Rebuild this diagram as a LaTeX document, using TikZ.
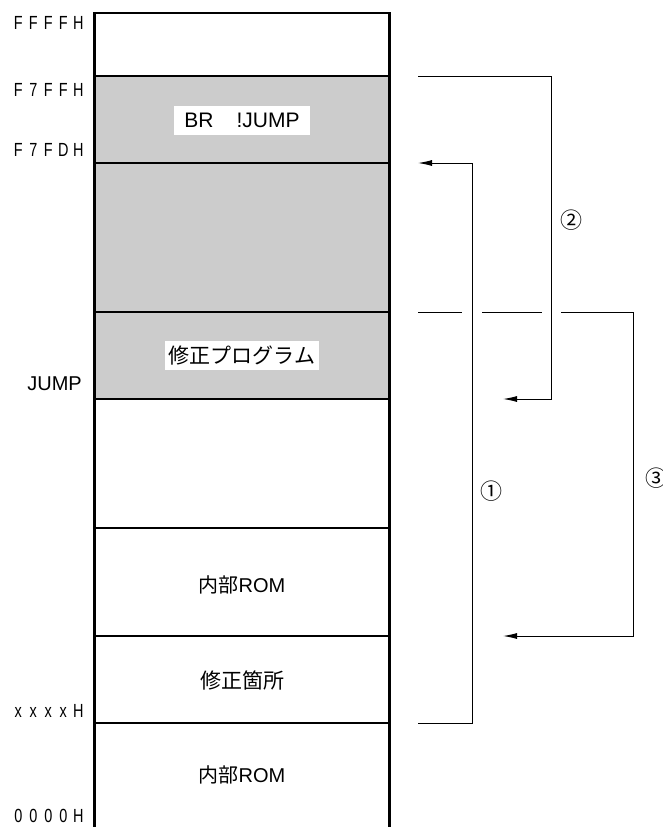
\documentclass[tikz,border=0pt]{standalone}
\usepackage{fontspec}
\setmainfont{Liberation Sans}
\newfontfamily\jp{Noto Sans CJK JP}
\newfontfamily\addrfont[FakeStretch=0.76]{Liberation Sans}
\usetikzlibrary{arrows.meta}
\newcommand{\ac}[1]{\makebox[15pt][c]{#1}}
\definecolor{memgray}{HTML}{CCCCCC}
\tikzset{
  boxline/.style={line width=1.3pt},
  sideline/.style={line width=3pt},
  conn/.style={line width=1pt},
  arr/.style={conn,-{Latex[length=14pt,width=6pt]}},
  addr/.style={anchor=east,inner sep=0pt,font=\addrfont\fontsize{19}{19}\selectfont},
  lbl/.style={inner sep=0pt,font=\fontsize{20}{20}\selectfont},
  wlbl/.style={fill=white,inner xsep=10pt,inner ysep=7pt,font=\fontsize{21}{21}\selectfont},
  circ/.style={inner sep=0pt,font=\jp\fontsize{22}{22}\selectfont}
}
\begin{document}
\begin{tikzpicture}[x=1pt,y=-1pt]
\useasboundingbox (0,0) rectangle (662,827);
% gray region
\fill[memgray] (95,76) rectangle (389,399);
% horizontal lines
\draw[line width=2pt] (94.5,13) -- (389.5,13);
\foreach \yy in {76,163,312,399,528,636,723}
  \draw[boxline] (95,\yy) -- (389,\yy);
% sides
\draw[sideline] (94.5,12) -- (94.5,827);
\draw[sideline] (389.5,12) -- (389.5,827);
% address labels
\node[addr] (aFFFF) at (86,22.5) {\ac{F}\ac{F}\ac{F}\ac{F}\ac{H}};
\node[addr] (aF7FF) at (86,90) {\ac{F}\ac{7}\ac{F}\ac{F}\ac{H}};
\node[addr] (aF7FD) at (86,150) {\ac{F}\ac{7}\ac{F}\ac{D}\ac{H}};
\node[anchor=east,inner sep=0pt,font=\fontsize{20}{20}\selectfont] (aJUMP) at (82,383.5) {JUMP};
\node[addr] (axxxx) at (86,711) {\ac{x}\ac{x}\ac{x}\ac{x}\ac{H}};
\node[addr] (a0000) at (86,816) {\ac{0}\ac{0}\ac{0}\ac{0}\ac{H}};
% region labels
\node[wlbl] (br) at (242,120.5) {BR\hspace{23pt}!JUMP};
\node[fill=white,inner xsep=4pt,inner ysep=5pt,font=\jp\fontsize{21}{21}\selectfont] (patch) at (242,355.5) {修正プログラム};
\node[lbl] (rom1) at (242,585) {{\jp 内部}ROM};
\node[lbl,font=\jp\fontsize{21}{21}\selectfont] (fix) at (242,680) {修正箇所};
\node[lbl] (rom2) at (242,775) {{\jp 内部}ROM};
% connector coordinates
\coordinate (s2) at (418,76);
\coordinate (c2) at (551,399);
\coordinate (e2) at (503,399);
\coordinate (s1) at (418,723);
\coordinate (c1) at (472,163);
\coordinate (e1) at (418,163);
\coordinate (s3) at (418,312);
\coordinate (g1) at (462,312);
\coordinate (g2) at (482,312);
\coordinate (g3) at (542,312);
\coordinate (g4) at (561,312);
\coordinate (c3) at (633,636);
\coordinate (e3) at (503,636);
% connectors
\draw[arr] (s2) -| (c2) -- (e2);
\draw[arr] (s1) -| (c1) -- (e1);
\draw[conn] (s3) -- (g1);
\draw[conn] (g2) -- (g3);
\draw[arr] (g4) -| (c3) -- (e3);
% circled numbers
\node[circ] (n2) at (571,220) {②};
\node[circ] (n1) at (491.5,491) {①};
\node[circ] (n3) at (656,478) {③};
\end{tikzpicture}
\end{document}
